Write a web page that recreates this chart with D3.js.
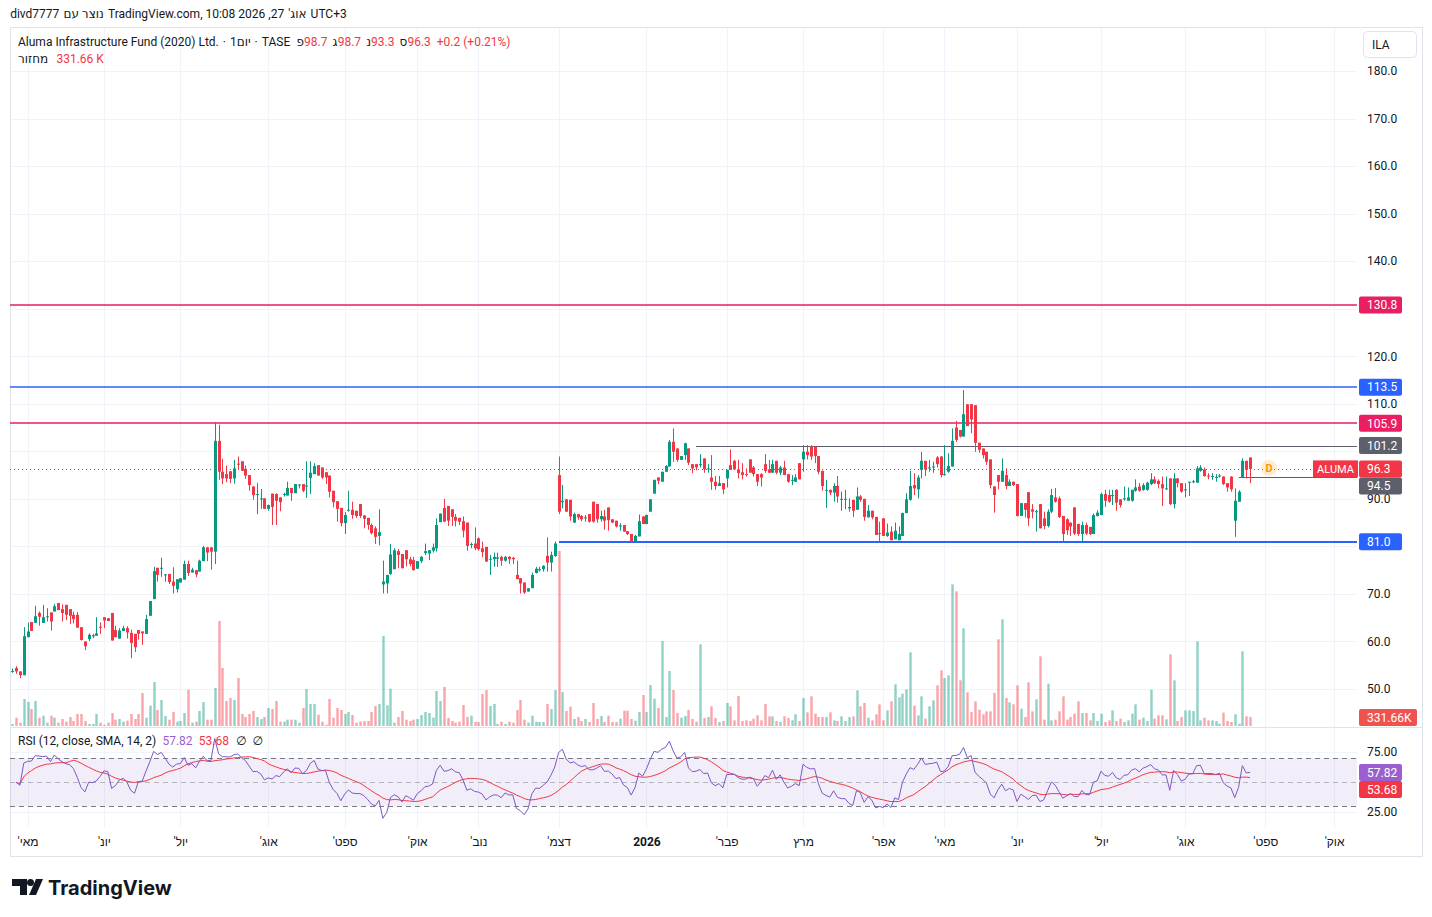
<!DOCTYPE html>
<html>
<head>
<meta charset="utf-8">
<script src="https://cdn.jsdelivr.net/npm/d3@7"></script>
<style>
  body { margin: 0; background: #fff; }
  svg text { font-family: Roboto, "Noto Sans", "DejaVu Sans", sans-serif; }
</style>
</head>
<body>
<script>
// Daily candles, [open, high, low, close]
var ohlc = [
  [53.6,54.3,53.4,53.8],[54.4,54.8,53.2,53.7],[53.7,53.7,52.3,52.9],[52.9,63.0,52.9,61.1],[60.9,64.0,60.9,62.1],
  [64.1,64.1,62.2,62.2],[63.9,67.5,63.9,65.3],[66.0,66.3,63.3,65.2],[63.9,67.7,63.9,65.1],[65.2,67.0,64.2,65.3],
  [66.1,66.1,62.3,64.2],[66.3,67.9,66.3,67.4],[68.1,68.1,66.6,66.6],[66.8,67.8,64.2,66.0],[67.7,67.7,64.5,65.6],
  [66.8,66.8,63.7,65.4],[65.6,66.3,63.8,64.7],[65.6,66.2,62.9,62.9],[63.0,63.0,60.2,60.3],[60.0,60.0,58.2,59.0],
  [60.5,61.7,60.1,61.4],[61.1,61.6,60.7,61.3],[61.2,65.1,61.2,61.7],[63.1,64.0,61.6,62.9],[65.1,65.1,62.8,64.4],
  [64.9,64.9,64.3,64.3],[66.0,66.0,60.2,60.2],[62.4,63.3,60.9,60.9],[60.6,62.8,60.6,62.3],[62.2,63.3,62.2,62.8],
  [62.8,63.2,60.6,61.9],[61.8,62.5,56.5,59.7],[61.6,61.6,57.8,58.8],[62.4,62.4,60.4,61.6],[62.1,62.1,59.3,61.7],
  [61.6,65.6,61.6,64.7],[65.4,68.5,65.4,68.5],[68.9,75.7,68.9,74.8],[75.5,75.5,72.6,74.0],[75.4,77.6,73.6,75.5],
  [74.0,74.2,72.6,74.1],[74.2,74.2,72.1,72.5],[72.6,75.6,70.1,71.7],[71.0,73.1,70.3,73.1],[72.4,73.3,72.4,73.3],
  [73.0,77.0,73.0,76.3],[76.3,77.0,73.8,74.4],[74.5,75.5,74.5,75.1],[75.0,75.0,73.5,74.1],[74.7,77.2,74.7,77.0],
  [76.9,80.1,76.9,79.8],[79.8,79.8,76.9,78.7],[79.8,79.8,75.1,78.9],[78.9,106.1,76.3,102.2],[102.2,105.6,94.0,95.7],
  [95.7,98.4,93.1,94.3],[95.2,97.0,93.5,94.3],[95.8,95.8,93.3,94.2],[94.3,98.2,93.2,96.4],[97.4,98.9,96.1,97.2],
  [97.9,97.9,95.9,95.9],[96.3,97.0,94.2,94.9],[95.0,95.0,91.7,92.9],[92.6,92.6,89.8,90.8],[90.8,93.3,86.8,91.0],
  [90.0,92.1,87.9,90.1],[90.1,90.1,87.9,87.9],[87.9,88.8,87.5,88.7],[91.1,91.1,84.5,88.3],[91.0,91.2,84.5,89.6],
  [90.3,90.3,87.4,89.3],[90.9,91.3,90.5,91.0],[90.7,93.6,90.7,92.3],[92.3,92.3,89.6,91.2],[91.2,93.1,91.2,93.1],
  [92.9,93.1,92.2,93.0],[93.1,93.1,91.4,91.7],[92.7,97.9,90.2,92.8],[94.4,97.9,91.0,95.5],[95.2,97.5,95.2,96.9],
  [97.1,97.1,94.9,94.9],[96.6,96.6,94.2,94.5],[95.6,95.6,93.1,94.5],[94.9,94.9,90.3,91.5],[91.7,91.7,88.2,89.3],
  [89.5,89.5,85.2,87.9],[88.1,88.1,84.2,84.9],[84.9,87.2,82.6,86.6],[87.6,91.7,87.3,87.7],[87.7,89.4,85.8,86.6],
  [87.5,87.5,86.0,86.4],[88.9,88.9,86.0,86.4],[86.5,86.6,83.8,85.8],[86.0,86.0,83.5,84.5],[84.5,84.8,82.5,82.8],
  [83.8,84.2,80.5,82.0],[82.2,87.8,80.2,83.0],[72.0,77.0,70.1,72.6],[72.2,74.0,70.1,74.0],[74.2,80.5,74.0,78.3],
  [75.2,79.6,75.2,79.2],[79.0,79.4,75.4,78.2],[78.4,78.4,75.4,75.4],[79.2,79.2,75.8,77.3],[77.3,77.8,75.8,76.3],
  [77.1,77.8,74.9,75.0],[75.3,76.9,75.3,76.9],[76.9,78.0,76.5,77.8],[78.6,80.6,78.2,79.0],[78.5,79.2,77.1,79.2],
  [79.1,80.6,78.7,79.8],[79.6,85.9,78.9,84.5],[85.1,86.9,85.1,86.9],[88.1,90.0,85.2,85.2],[88.5,88.5,84.3,85.4],
  [87.8,87.8,84.3,86.2],[86.2,86.8,84.2,85.4],[86.0,86.0,84.5,85.2],[85.3,86.3,81.9,83.3],[85.0,85.0,79.1,80.1],
  [80.3,80.8,79.6,80.5],[80.6,84.0,79.2,79.6],[81.7,81.9,79.1,79.4],[79.6,81.0,77.7,78.8],[79.9,79.9,76.8,76.8],
  [77.2,78.2,74.0,77.4],[77.3,78.7,75.7,77.8],[77.4,78.7,75.7,77.7],[77.8,78.0,75.9,77.0],[77.0,78.0,76.8,77.8],
  [77.8,78.0,76.3,77.3],[77.6,77.8,76.3,77.3],[74.0,77.0,73.1,73.1],[73.3,73.3,70.1,72.2],[72.4,72.4,70.0,70.3],
  [70.5,71.2,70.5,71.2],[71.2,74.5,71.2,74.0],[74.4,75.7,74.3,75.3],[75.0,75.7,74.7,75.2],[75.2,76.0,74.7,75.9],
  [78.0,81.9,74.7,76.6],[76.6,78.9,74.7,78.2],[78.0,81.0,77.8,80.6],[95.0,98.9,86.8,87.3],[89.3,92.9,88.0,89.6],
  [89.9,89.9,87.3,87.3],[89.8,89.8,85.4,86.3],[85.0,87.1,85.0,86.8],[86.8,86.8,85.6,86.1],[86.4,86.6,85.3,85.7],
  [86.0,86.6,85.2,86.1],[86.8,86.8,85.0,85.2],[89.4,89.4,85.0,85.2],[88.9,88.9,85.0,85.7],[85.7,87.5,85.2,86.4],
  [86.3,87.7,83.5,85.4],[88.2,88.2,83.3,85.5],[85.7,85.7,84.9,85.0],[85.4,85.4,84.0,84.2],[84.2,84.9,83.3,84.4],
  [84.5,84.5,83.1,83.1],[83.2,83.2,82.4,82.6],[82.6,82.6,81.0,81.0],[81.0,82.4,81.0,82.2],[82.1,86.7,82.1,85.3],
  [86.3,86.3,84.7,84.7],[84.7,86.7,84.7,86.6],[87.3,89.9,87.3,89.9],[91.1,94.0,91.1,94.0],[94.5,94.5,93.1,93.8],
  [93.6,95.7,93.6,95.7],[95.7,97.1,95.7,96.9],[96.8,102.4,96.8,102.0],[102.0,104.8,97.8,99.9],[100.6,100.6,97.8,98.2],
  [98.2,99.0,98.2,99.0],[99.2,101.8,98.2,101.7],[100.6,100.6,97.1,97.6],[97.3,97.3,95.4,96.4],[97.3,97.3,96.0,96.6],
  [97.2,99.4,96.6,97.3],[98.5,98.5,95.5,96.2],[96.2,97.3,95.5,96.4],[94.5,99.2,91.9,93.6],[93.6,94.8,91.9,92.7],
  [92.7,94.8,92.7,93.3],[93.3,93.3,91.0,92.0],[94.3,96.1,92.4,96.1],[97.1,100.4,96.1,96.1],[98.0,98.2,96.1,96.2],
  [96.2,98.2,94.3,95.4],[95.6,97.5,94.1,95.0],[95.2,96.4,94.7,95.0],[98.3,98.3,95.5,95.5],[96.6,96.9,94.7,95.2],
  [95.2,95.2,92.7,93.6],[95.2,95.4,92.6,94.5],[97.3,99.4,95.5,95.9],[96.2,98.2,95.4,95.5],[95.5,98.2,95.5,97.3],
  [98.0,98.0,95.2,95.5],[95.5,96.9,95.0,96.6],[96.6,98.0,95.0,95.0],[95.2,95.2,93.4,93.6],[93.8,95.0,92.9,94.0],
  [93.6,95.2,93.6,94.5],[97.5,97.5,94.1,94.1],[98.3,101.3,95.7,99.9],[99.9,101.3,98.3,99.2],[101.0,101.3,98.2,98.9],
  [101.0,101.0,97.5,99.0],[99.0,99.0,95.2,95.7],[95.9,95.9,91.7,92.7],[91.8,94.0,88.1,91.9],[91.9,91.9,90.8,91.3],
  [91.3,93.3,89.4,92.7],[92.7,94.8,89.2,90.5],[89.9,91.5,87.5,90.0],[90.0,91.9,87.8,90.0],[88.0,90.1,87.3,88.3],
  [89.8,89.8,86.2,87.5],[87.7,92.4,87.7,90.5],[90.5,90.8,89.4,89.8],[90.0,90.0,85.4,86.2],[86.1,88.7,86.1,87.5],
  [87.5,87.5,85.7,86.1],[86.2,86.2,82.4,82.4],[82.8,85.2,81.0,82.7],[85.9,85.9,82.2,82.2],[82.2,84.8,82.0,82.9],
  [83.1,84.2,81.3,81.3],[81.5,85.0,81.5,83.3],[81.3,84.2,81.3,82.6],[82.2,87.1,82.2,87.0],[87.0,91.2,87.0,89.9],
  [89.8,95.9,89.6,92.7],[92.9,95.4,90.8,92.2],[92.0,95.0,90.1,94.5],[96.1,99.9,94.3,98.0],[98.0,98.0,94.8,96.2],
  [96.5,98.2,95.7,96.6],[96.6,97.8,95.5,96.8],[98.7,99.0,96.6,97.3],[98.9,99.0,94.5,95.0],[95.0,101.3,94.9,95.2],
  [95.7,99.6,95.5,96.9],[96.8,104.8,96.8,102.2],[105.0,106.4,102.0,102.4],[104.5,104.5,102.9,103.1],[103.1,112.9,103.1,107.8],
  [109.9,109.9,105.3,105.3],[109.9,109.9,103.8,106.7],[109.7,109.7,99.9,101.8],[101.8,101.8,99.7,100.3],[100.6,100.6,98.5,99.2],
  [99.9,99.9,97.1,97.8],[98.3,98.3,92.2,92.9],[92.6,92.6,87.1,90.8],[95.0,95.0,92.0,93.6],[93.6,98.5,93.6,95.9],
  [95.0,96.4,92.0,92.7],[92.7,94.1,92.7,93.6],[93.6,93.6,92.7,92.9],[93.1,93.1,86.3,86.4],[86.4,89.1,86.4,89.1],
  [89.1,89.1,86.1,87.7],[91.4,91.4,84.3,85.9],[87.8,88.9,85.9,87.3],[87.3,87.7,83.1,87.4],[88.9,88.9,83.8,83.8],
  [85.9,87.3,83.6,84.3],[84.3,87.8,84.0,87.3],[87.3,92.1,87.0,90.8],[90.3,92.3,89.2,89.4],[90.1,90.5,86.0,86.2],
  [86.4,86.4,81.0,82.6],[85.7,85.9,82.4,83.4],[85.0,85.0,82.2,84.2],[88.2,88.2,82.4,82.7],[84.7,84.8,82.2,82.6],
  [82.6,85.2,81.0,84.5],[84.5,85.0,82.4,82.7],[84.1,84.1,82.4,82.6],[82.6,86.9,82.6,86.6],[86.4,87.6,86.3,87.1],
  [86.6,91.3,86.6,91.0],[91.0,91.9,88.3,89.6],[90.8,91.9,89.2,89.4],[90.6,91.9,88.7,90.8],[91.9,92.0,87.5,89.2],
  [89.9,89.9,88.2,88.7],[89.9,92.6,89.6,90.1],[89.6,92.4,89.6,90.3],[89.6,91.9,89.4,91.9],[91.7,94.1,91.5,92.4],
  [92.6,93.3,91.5,91.7],[91.9,93.3,91.7,92.9],[91.9,93.6,91.7,93.4],[93.1,95.4,92.9,94.1],[94.1,94.7,93.1,93.3],
  [93.8,94.1,92.2,93.1],[93.1,94.7,88.5,92.2],[92.0,94.7,91.9,92.2],[94.3,94.3,88.7,88.9],[88.9,95.4,88.0,94.3],
  [94.3,94.3,92.4,93.3],[93.3,93.3,91.3,91.5],[91.8,93.3,90.3,92.0],[93.4,93.6,90.6,93.6],[93.5,94.0,93.3,93.7],
  [93.4,96.9,93.4,96.4],[95.9,97.1,95.7,96.6],[96.2,96.6,94.7,94.8],[94.9,95.4,94.1,94.8],[94.6,95.4,94.0,94.8],
  [94.5,95.2,93.6,94.6],[94.7,95.2,94.5,94.9],[94.7,94.7,92.9,93.1],[93.3,93.3,91.5,92.4],[94.7,94.7,91.5,92.0],
  [85.4,92.2,82.0,89.6],[89.4,91.8,89.4,91.5],[94.5,98.5,94.5,98.0],[98.0,98.0,94.3,96.1],[98.7,98.7,93.3,96.3]
];

// Volume per bar, thousands of shares
var volumes = [
  74,307,123,994,883,626,920,307,380,123, 380,307,123,258,160,331,184,442,442,184,
  74,74,442,123,49,123,479,233,258,160, 196,442,258,442,1215,307,748,1620,589,957,
  368,233,515,160,184,479,1337,123,160,552, 883,233,233,1399,3865,2135,920,1031,957,1767,
  442,331,442,552,331,258,331,663,626,920, 160,160,233,233,233,123,663,1362,810,810,
  417,160,49,994,307,663,
  589,442,515,405,123,160,184,184,515,736, 810,3313,761,1374,123,331,552,233,184,233,
  258,405,515,479,307,1288,920,1436,294,184, 123,160,773,331,380,147,147,1178,1325,736,
  810,74,160,74,160,123,589,957,233,123, 380,160,147,147,810,626,1325,6442,
  1251,552,712,258,331,184,258,147,847,258, 368,147,380,147,147,270,564,564,258,196,
  515,1141,515,1509,1006,663,3129,331,2025,1325, 479,307,368,589,258,160,
  3006,294,331,724,294,147,184,847,724,209, 1104,184,209,184,270,393,209,810,356,356,
  184,147,356,294,209,429,184,1031,503,1092, 454,331,331,331,503,209,184,356,184,331,
  356,1313,724,847,307,209,429,798,209,577, 908,1534,1055,1190,1350,2712,748,393,1092,270,
  724,945,1497,2049,1767,1865,5215,4957,1681,3595, 1239,515,908,601,429,540,540,1215,3190,3926,
  1031,871,798,1497,638,331,1607,540,982,
  2564,233,1558,209,233,540,1092,233,331,454, 908,479,479,209,479,184,454,147,209,577,
  184,270,147,209,454,798,233,307,184,1337, 270,393,393,245,2638,1681,184,331,577,577,
  552,3117,209,307,209,209,184,86,491,184, 147,429,86,2748,356,332
];

// Time axis: bar index where each month starts, and its label
var monthTicks = [4, 24, 44, 67, 87, 106, 122, 143, 166, 187, 207, 228, 244, 263, 285, 307, 328, 346];
var monthLabels = ["מאי'", "יונ'", "יול'", "אוג'", "ספט'", "אוק'", "נוב'", "דצמ'", "2026", "פבר'", "מרץ", "אפר'", "מאי'", "יונ'", "יול'", "אוג'", "ספט'", "אוק'"];

var priceTicks = d3.range(50, 181, 10);
var rsiTicks = [75, 25];
var rsiBands = [70, 50, 30];

// Horizontal drawings: level, first bar (null = whole width), colour, width
var levelValues = [130.8, 113.5, 105.9, 101.2, 81.0, 94.5];
var levelStart = [null, null, null, 179, 143, 321];
var levelColors = ["#e91e63", "#2962ff", "#e91e63", "#5d606b", "#2962ff", "#5d606b"];
var levelWidths = [1.3, 1.3, 1.3, 1, 2, 1];

var lastClose = 96.3;
var lastVolumeText = "331.66K";
var rsiLast = [57.82, 53.68];
var dividendBar = 329;

// Layout
var svgWidth = 1432, svgHeight = 917;
var pane = { left: 10, right: 1357, top: 27, bottom: 727, rsiTop: 728, rsiBottom: 828, frameRight: 1422, frameBottom: 856 };

var upColor = "#089981", downColor = "#f23645";
var gridColor = "#f0f3fa", textColor = "#131722";

var svg = d3.select("body").append("svg")
  .attr("width", svgWidth)
  .attr("height", svgHeight);

svg.append("rect").attr("width", svgWidth).attr("height", svgHeight).attr("fill", "#fff");

var defs = svg.append("defs");
defs.append("clipPath").attr("id", "clipMain").append("rect")
  .attr("x", pane.left).attr("y", pane.top).attr("width", pane.right - pane.left).attr("height", pane.bottom - pane.top);
defs.append("clipPath").attr("id", "clipRsi").append("rect")
  .attr("x", pane.left).attr("y", pane.rsiTop).attr("width", pane.right - pane.left).attr("height", pane.rsiBottom - pane.rsiTop);

// Scales
var x = d3.scaleLinear().domain([0, ohlc.length - 1]).range([12.3, 1250]);
var y = d3.scaleLinear().domain([50, 180]).range([689, 71]);
var yVol = d3.scaleLinear().domain([0, 6442]).range([726, 551]);
var yRsi = d3.scaleLinear().domain([25, 75]).range([812, 752]);

function px(i) { return Math.round(x(i)); }
function isUp(d) { return d[3] >= d[0]; }

// Grid
var grid = svg.append("g");
grid.selectAll(".vgrid").data(monthTicks).enter().append("line")
  .attr("x1", d => px(d) + 0.5).attr("x2", d => px(d) + 0.5)
  .attr("y1", pane.top).attr("y2", pane.rsiBottom)
  .attr("stroke", gridColor);
grid.selectAll(".hgrid").data(priceTicks).enter().append("line")
  .attr("x1", pane.left).attr("x2", pane.right)
  .attr("y1", d => Math.round(y(d)) + 0.5).attr("y2", d => Math.round(y(d)) + 0.5)
  .attr("stroke", gridColor);
grid.selectAll(".rgrid").data(rsiTicks).enter().append("line")
  .attr("x1", pane.left).attr("x2", pane.right)
  .attr("y1", d => Math.round(yRsi(d)) + 0.5).attr("y2", d => Math.round(yRsi(d)) + 0.5)
  .attr("stroke", gridColor);

// Frame and pane separator
svg.append("rect")
  .attr("x", pane.left + 0.5).attr("y", pane.top + 0.5)
  .attr("width", pane.frameRight - pane.left).attr("height", pane.frameBottom - pane.top)
  .attr("fill", "none").attr("stroke", "#e0e3eb");
svg.append("line")
  .attr("x1", pane.left).attr("x2", pane.frameRight)
  .attr("y1", pane.bottom + 0.5).attr("y2", pane.bottom + 0.5)
  .attr("stroke", "#e0e3eb");

var main = svg.append("g").attr("clip-path", "url(#clipMain)");

// Volume
main.selectAll(".vol").data(volumes).enter().append("rect")
  .attr("x", (d, i) => px(i) - 0.7)
  .attr("width", 2.4)
  .attr("y", d => yVol(d))
  .attr("height", d => yVol(0) - yVol(d))
  .attr("fill", (d, i) => isUp(ohlc[i]) ? "rgba(8,153,129,0.45)" : "rgba(242,54,69,0.45)");

// Horizontal drawings
levelValues.forEach(function(v, k) {
  var yy = Math.round(y(v)) + (levelWidths[k] === 1 ? 0.5 : 0);
  main.append("line")
    .attr("x1", levelStart[k] === null ? pane.left : px(levelStart[k]))
    .attr("x2", pane.right)
    .attr("y1", yy).attr("y2", yy)
    .attr("stroke", levelColors[k])
    .attr("stroke-width", levelWidths[k]);
});

// Last price dotted line
main.append("line")
  .attr("x1", pane.left).attr("x2", pane.right)
  .attr("y1", Math.round(y(lastClose)) + 0.5).attr("y2", Math.round(y(lastClose)) + 0.5)
  .attr("stroke", downColor).attr("stroke-dasharray", "1,3");

// Candles
var candles = main.selectAll(".candle").data(ohlc).enter().append("g");
candles.append("rect")
  .attr("x", (d, i) => px(i))
  .attr("width", 1)
  .attr("y", d => y(d[1]))
  .attr("height", d => Math.max(1, y(d[2]) - y(d[1])))
  .attr("fill", d => isUp(d) ? upColor : downColor);
candles.append("rect")
  .attr("x", (d, i) => px(i) - 1)
  .attr("width", 3)
  .attr("y", d => y(Math.max(d[0], d[3])))
  .attr("height", d => Math.max(1, Math.abs(y(d[0]) - y(d[3]))))
  .attr("fill", d => isUp(d) ? upColor : downColor);

// Dividend marker
var dGroup = main.append("g");
dGroup.append("circle")
  .attr("cx", x(dividendBar)).attr("cy", y(lastClose) - 1).attr("r", 8)
  .attr("fill", "rgba(255,152,0,0.18)");
dGroup.append("text")
  .attr("x", x(dividendBar)).attr("y", y(lastClose) - 1).attr("dy", "0.36em")
  .attr("text-anchor", "middle").attr("fill", "#ff9800")
  .style("font-size", "11px").style("font-weight", "bold").text("D");

// RSI (12) with SMA (14), computed from the closes
var rsiLength = 12, maLength = 14;
var closes = ohlc.map(d => d[3]);
var changes = closes.slice(1).map((c, i) => c - closes[i]);
var seed = d3.mean(changes.slice(0, rsiLength), Math.abs) / 2;
var avgUp = seed, avgDown = seed;
var rsi = [NaN];
changes.forEach(function(ch) {
  avgUp = (avgUp * (rsiLength - 1) + Math.max(ch, 0)) / rsiLength;
  avgDown = (avgDown * (rsiLength - 1) + Math.max(-ch, 0)) / rsiLength;
  rsi.push(avgDown === 0 ? 100 : 100 - 100 / (1 + avgUp / avgDown));
});
var rsiMa = rsi.map(function(v, i) {
  if (i < 1) return NaN;
  return d3.mean(rsi.slice(Math.max(1, i - maLength + 1), i + 1));
});

var rsiG = svg.append("g").attr("clip-path", "url(#clipRsi)");
rsiG.append("rect")
  .attr("x", pane.left).attr("width", pane.right - pane.left)
  .attr("y", yRsi(70)).attr("height", yRsi(30) - yRsi(70))
  .attr("fill", "rgba(126,87,194,0.1)");
rsiG.selectAll(".band").data(rsiBands).enter().append("line")
  .attr("x1", pane.left).attr("x2", pane.right)
  .attr("y1", d => Math.round(yRsi(d)) + 0.5).attr("y2", d => Math.round(yRsi(d)) + 0.5)
  .attr("stroke", d => d === 50 ? "rgba(120,123,134,0.5)" : "#787b86")
  .attr("stroke-dasharray", "5,4");

var lineGen = d3.line().defined(d => !isNaN(d)).x((d, i) => x(i)).y(d => yRsi(d));
rsiG.append("path").datum(rsiMa).attr("d", lineGen)
  .attr("fill", "none").attr("stroke", "#f23645").attr("stroke-width", 1);
rsiG.append("path").datum(rsi).attr("d", lineGen)
  .attr("fill", "none").attr("stroke", "#7e57c2").attr("stroke-width", 1);

// Boxes on the price scale: drawing levels and last price, pushed apart when they touch
var priceLabels = levelValues.map((v, k) => ({ v: v, bg: levelColors[k] }));
priceLabels.push({ v: lastClose, bg: downColor });
priceLabels.forEach(d => { d.y = y(d.v); });
priceLabels.sort((a, b) => a.y - b.y);
priceLabels.forEach(function(d, k) {
  if (k > 0 && d.y < priceLabels[k - 1].y + 17) d.y = priceLabels[k - 1].y + 17;
});

// Price scale, without the ticks hidden under a box
var visiblePriceTicks = priceTicks.filter(t => priceLabels.every(d => Math.abs(y(t) - d.y) > 12));
var priceAxis = svg.append("g")
  .attr("transform", `translate(${pane.right + 7},0)`)
  .call(d3.axisRight(y).tickValues(visiblePriceTicks).tickSize(0).tickPadding(3).tickFormat(d3.format(".1f")));
priceAxis.select(".domain").remove();
priceAxis.selectAll("text").attr("fill", textColor).style("font-size", "12px").style("font-family", "Roboto, sans-serif");

var rsiAxis = svg.append("g")
  .attr("transform", `translate(${pane.right + 7},0)`)
  .call(d3.axisRight(yRsi).tickValues(rsiTicks).tickSize(0).tickPadding(3).tickFormat(d3.format(".2f")));
rsiAxis.select(".domain").remove();
rsiAxis.selectAll("text").attr("fill", textColor).style("font-size", "12px").style("font-family", "Roboto, sans-serif");

// Time scale
var timeAxis = svg.append("g")
  .attr("transform", `translate(0,${pane.rsiBottom + 2})`)
  .call(d3.axisBottom(x).tickValues(monthTicks).tickSize(0).tickPadding(7).tickFormat((d, i) => monthLabels[i]));
timeAxis.select(".domain").remove();
timeAxis.selectAll("text")
  .attr("fill", textColor)
  .attr("direction", "rtl")
  .style("font-size", "12px")
  .style("font-family", "Roboto, 'Noto Sans', sans-serif")
  .style("font-weight", (d, i) => monthLabels[i] === "2026" ? "bold" : "normal");

// Value labels on the price scale
function scaleBox(layer, yc, label, bg, width) {
  layer.append("rect")
    .attr("x", pane.right + 2).attr("y", yc - 8.5)
    .attr("width", width).attr("height", 17).attr("rx", 2)
    .attr("fill", bg);
  layer.append("text")
    .attr("x", pane.right + 10).attr("y", yc).attr("dy", "0.36em")
    .attr("fill", "#fff").style("font-size", "12px").text(label);
}
var labelLayer = svg.append("g");
priceLabels.forEach(function(d) {
  scaleBox(labelLayer, d.y, d3.format(".1f")(d.v), d.bg, 43);
});
scaleBox(labelLayer, yVol(0) - 8.5, lastVolumeText, "#ef5350", 58);

// Symbol tag left of the last price
labelLayer.append("rect")
  .attr("x", pane.right - 44).attr("y", y(lastClose) - 8.5)
  .attr("width", 45).attr("height", 17).attr("fill", downColor);
labelLayer.append("text")
  .attr("x", pane.right - 21.5).attr("y", y(lastClose)).attr("dy", "0.36em")
  .attr("text-anchor", "middle").attr("fill", "#fff").style("font-size", "11px").text("ALUMA");

// RSI value labels
var rsiColors = ["#9c5fd0", "#f23645"];
var rsiY = yRsi(rsiLast[0]);
rsiLast.forEach(function(v, k) {
  var yy = Math.max(yRsi(v), rsiY + 17 * k);
  scaleBox(labelLayer, yy, d3.format(".2f")(v), rsiColors[k], 43);
});

// Text written piece by piece, left to right
function chain(x0, y0, pieces) {
  var cx = x0;
  pieces.forEach(function(p) {
    cx += p.gap === undefined ? 4 : p.gap;
    var t = svg.append("text")
      .attr("y", y0)
      .attr("text-anchor", "middle")
      .attr("fill", p.color || textColor)
      .style("font-size", (p.size || 12) + "px")
      .text(p.text);
    if (p.rtl) t.attr("direction", "rtl");
    var w = t.node().getBBox().width;
    t.attr("x", cx + w / 2);
    cx += w;
  });
}

chain(10, 18, [
  { text: "divd7777", gap: 0 },
  { text: "נוצר עם", rtl: true },
  { text: "TradingView.com, 10:08 2026 ,27" },
  { text: "אוג'", rtl: true },
  { text: "UTC+3" }
]);

chain(18, 46, [
  { text: "Aluma Infrastructure Fund (2020) Ltd.", gap: 0 },
  { text: "·" },
  { text: "1" },
  { text: "יום", gap: 0 },
  { text: "·" },
  { text: "TASE" },
  { text: "פ", gap: 6 }, { text: "98.7", color: downColor, gap: 0 },
  { text: "ג", gap: 5 }, { text: "98.7", color: downColor, gap: 0 },
  { text: "נ", gap: 5 }, { text: "93.3", color: downColor, gap: 0 },
  { text: "ס", gap: 5 }, { text: "96.3", color: downColor, gap: 0 },
  { text: "+0.2 (+0.21%)", color: downColor, gap: 6 }
]);

chain(18, 63, [
  { text: "מחזור", gap: 0 },
  { text: "331.66 K", color: downColor, gap: 8 }
]);

chain(18, 745, [
  { text: "RSI (12, close, SMA, 14, 2)", gap: 0 },
  { text: "57.82", color: "#9c5fd0", gap: 6 },
  { text: "53.68", color: downColor, gap: 6 },
  { text: "∅", color: textColor, gap: 7 },
  { text: "∅", color: textColor, gap: 6 }
]);

// Currency button
svg.append("rect")
  .attr("x", 1363.5).attr("y", 31.5).attr("width", 53).attr("height", 26).attr("rx", 4)
  .attr("fill", "#fff").attr("stroke", "#e0e3eb");
svg.append("text")
  .attr("x", 1372).attr("y", 49).attr("fill", textColor).style("font-size", "12px").text("ILA");

// TradingView logo
var logo = svg.append("g").attr("fill", textColor);
logo.append("path").attr("d", "M12,879 H27 V895 H20 V886 H12 Z");
logo.append("circle").attr("cx", 30.5).attr("cy", 882.5).attr("r", 3.5);
logo.append("path").attr("d", "M36,879 H43 L36,895 H29 Z");
logo.append("text")
  .attr("x", 48).attr("y", 895)
  .style("font-family", "Inter, Roboto, sans-serif")
  .style("font-size", "20px").style("font-weight", "700")
  .text("TradingView");
</script>
</body>
</html>
